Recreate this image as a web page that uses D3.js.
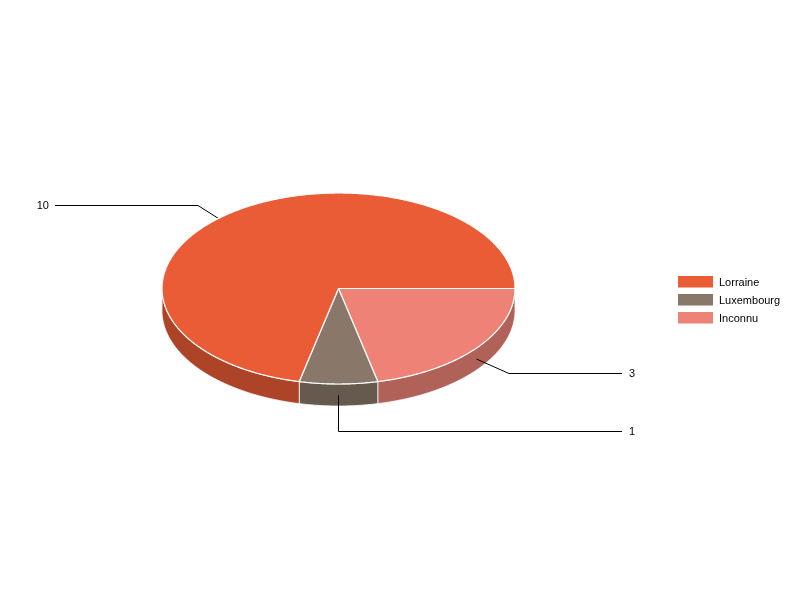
<!DOCTYPE html>
<html><head><meta charset="utf-8">
<script src="https://cdn.jsdelivr.net/npm/d3@7"></script>
<style>html,body{margin:0;padding:0;background:#fff}svg{display:block}text{opacity:.999}#c{will-change:transform}</style>
</head><body><svg id="c" width="800" height="600"></svg>
<script>
const categories = ["Lorraine", "Luxembourg", "Inconnu"];
const values = [10, 1, 3];
const labels = ["10", "1", "3"];
const topColors = ["#E95C36", "#89786A", "#EE8276"];
const sideColors = ["#AD4427", "#665A4F", "#B06158"];

// layout
const cx = 338.5, cy = 288.5, rx = 176.5, ry = 95.5, depth = 22;
const elbow = [[198, 205.5], [338.5, 431.5], [509, 373.5]];
const lineEnd = [55, 622, 622];
const labelX = [49, 629, 629];
const legendX = 678, legendY = 276, legendStep = 18;

const svg = d3.select("#c");
const sx = d3.scaleLinear().domain([-1, 1]).range([cx - rx, cx + rx]);
const sy = d3.scaleLinear().domain([-1, 1]).range([cy - ry, cy + ry]);
const pt = (a, dy = 0) => [sx(Math.cos(a)), sy(Math.sin(a)) + dy];

// angles run clockwise from 3 o'clock in screen space; Inconnu starts at 0
const order = [2, 1, 0];
const arcs = d3.pie().sort(null).value(i => values[i]).startAngle(0).endAngle(2 * Math.PI)(order);
const line = d3.line();
const sample = (a0, a1, dy) => {
  const n = Math.max(2, Math.ceil((a1 - a0) / 0.01));
  return d3.range(n + 1).map(k => pt(a0 + (a1 - a0) * k / n, dy));
};

// side walls (visible lower half only)
const sides = svg.append("g");
arcs.forEach(d => {
  const a0 = d.startAngle, a1 = Math.min(d.endAngle, Math.PI);
  if (a0 >= Math.PI) return;
  const pts = sample(a0, a1, 0).concat(sample(a0, a1, depth).reverse());
  sides.append("path").attr("d", line(pts) + "Z")
    .attr("fill", sideColors[d.data]).attr("stroke", "#fff")
    .attr("stroke-opacity", 0.75).attr("stroke-width", 1).attr("stroke-linejoin", "round");
});

// leader lines sit between the walls and the top face
const leaders = svg.append("g");
arcs.forEach(d => {
  const i = d.data, mid = (d.startAngle + d.endAngle) / 2;
  const s = pt(mid, depth / 2), e = elbow[i];
  leaders.append("path").attr("d", line([s, e, [lineEnd[i], e[1]]]))
    .attr("fill", "none").attr("stroke", "#000").attr("stroke-width", 1);
  const left = lineEnd[i] < cx;
  svg.append("text").attr("x", labelX[i]).attr("y", e[1] + 3.5)
    .attr("text-anchor", left ? "end" : "start")
    .attr("font-family", "Liberation Sans, Arial, sans-serif").attr("font-size", 11)
    .attr("fill", "#000").text(labels[i]);
});

// top faces
const tops = svg.append("g");
arcs.forEach(d => {
  const pts = [[cx, cy]].concat(sample(d.startAngle, d.endAngle, 0));
  tops.append("path").attr("d", line(pts) + "Z")
    .attr("fill", topColors[d.data]).attr("stroke", "#fff")
    .attr("stroke-width", 1.2).attr("stroke-linejoin", "round");
});

// legend
categories.forEach((c, i) => {
  const g = svg.append("g").attr("transform", `translate(${legendX},${legendY + i * legendStep})`);
  g.append("rect").attr("width", 35).attr("height", 11.5).attr("fill", topColors[i]);
  g.append("text").attr("x", 41).attr("y", 10)
    .attr("font-family", "Liberation Sans, Arial, sans-serif").attr("font-size", 11)
    .attr("fill", "#000").text(c);
});
</script></body></html>
